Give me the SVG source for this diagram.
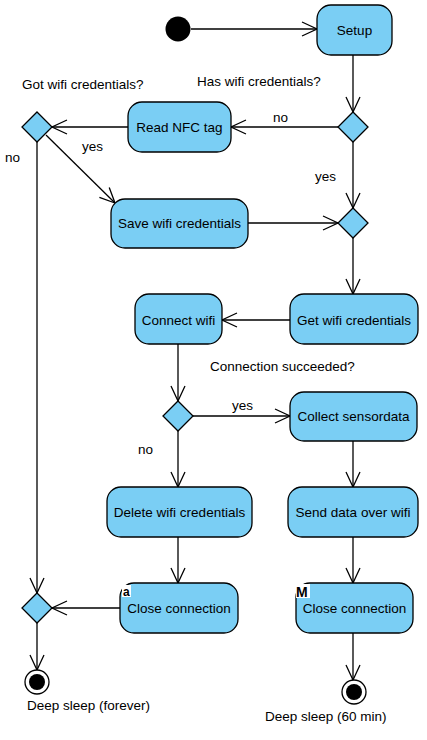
<svg xmlns="http://www.w3.org/2000/svg" width="427" height="740" viewBox="0 0 427 740">
<style>
.n{fill:#7ACEF4;stroke:#000;stroke-width:1.3}
.t{font-family:"Liberation Sans",Arial,sans-serif;font-size:13.5px;fill:#000}
.c{text-anchor:middle}
.e{fill:none;stroke:#000;stroke-width:1.3}
</style>
<defs>
<marker id="a" markerUnits="userSpaceOnUse" markerWidth="18" markerHeight="18" refX="15" refY="7" orient="auto" viewBox="-1 -1 18 16">
<path d="M0,0 L15,7 L0,14" fill="none" stroke="#000" stroke-width="1.3"/>
</marker>
</defs>
<rect width="427" height="740" fill="#fff"/>
<g id="connectors">
<line class="e" x1="191" y1="29" x2="317" y2="29" marker-end="url(#a)"/>
<line class="e" x1="353" y1="55" x2="353" y2="112" marker-end="url(#a)"/>
<line class="e" x1="338" y1="127" x2="231" y2="127" marker-end="url(#a)"/>
<line class="e" x1="128" y1="127" x2="52" y2="127" marker-end="url(#a)"/>
<line class="e" x1="46" y1="135" x2="115" y2="203" marker-end="url(#a)"/>
<line class="e" x1="353" y1="142" x2="353" y2="208" marker-end="url(#a)"/>
<line class="e" x1="248" y1="223" x2="338" y2="223" marker-end="url(#a)"/>
<line class="e" x1="353" y1="238" x2="353" y2="294" marker-end="url(#a)"/>
<line class="e" x1="290" y1="320" x2="222" y2="320" marker-end="url(#a)"/>
<line class="e" x1="178" y1="344" x2="178" y2="401" marker-end="url(#a)"/>
<line class="e" x1="193" y1="416" x2="290" y2="416" marker-end="url(#a)"/>
<line class="e" x1="178" y1="431" x2="178" y2="487" marker-end="url(#a)"/>
<line class="e" x1="353" y1="441" x2="353" y2="487" marker-end="url(#a)"/>
<line class="e" x1="178" y1="537" x2="178" y2="583" marker-end="url(#a)"/>
<line class="e" x1="353" y1="537" x2="353" y2="583" marker-end="url(#a)"/>
<line class="e" x1="37" y1="142" x2="37" y2="593" marker-end="url(#a)"/>
<line class="e" x1="120" y1="608" x2="52" y2="608" marker-end="url(#a)"/>
<line class="e" x1="37" y1="623" x2="37" y2="670" marker-end="url(#a)"/>
<line class="e" x1="353" y1="633" x2="353" y2="680" marker-end="url(#a)"/>
<text class="t" x="197" y="86">Has wifi credentials?</text>
<text class="t" x="273" y="122">no</text>
<text class="t" x="22" y="89">Got wifi credentials?</text>
<text class="t" x="82" y="151">yes</text>
<text class="t" x="5" y="162">no</text>
<text class="t" x="315" y="181">yes</text>
<text class="t" x="210" y="371">Connection succeeded?</text>
<text class="t" x="232" y="410">yes</text>
<text class="t" x="138" y="454">no</text>
</g>
<g id="start"><circle cx="178" cy="29" r="12.5" fill="#000"/></g>
<g id="setup"><rect class="n" x="317" y="5" width="75" height="50" rx="14"/><text class="t c" x="354.5" y="34.5">Setup</text></g>
<g id="dec1"><path class="n" d="M353,112 L368,127 L353,142 L338,127 Z"/></g>
<g id="readnfc"><rect class="n" x="128" y="102" width="103" height="50" rx="14"/><text class="t c" x="179.5" y="131.5">Read NFC tag</text></g>
<g id="dec2"><path class="n" d="M37,112 L52,127 L37,142 L22,127 Z"/></g>
<g id="save"><rect class="n" x="111" y="199" width="137" height="49" rx="14"/><text class="t c" x="179.5" y="228">Save wifi credentials</text></g>
<g id="merge1"><path class="n" d="M353,208 L368,223 L353,238 L338,223 Z"/></g>
<g id="getcred"><rect class="n" x="290" y="294" width="128" height="50" rx="14"/><text class="t c" x="354" y="324.5">Get wifi credentials</text></g>
<g id="connect"><rect class="n" x="135" y="294" width="87" height="50" rx="14"/><text class="t c" x="178.5" y="324.5">Connect wifi</text></g>
<g id="dec3"><path class="n" d="M178,401 L193,416 L178,431 L163,416 Z"/></g>
<g id="collect"><rect class="n" x="290" y="392" width="127" height="49" rx="14"/><text class="t c" x="353.5" y="421">Collect sensordata</text></g>
<g id="delete"><rect class="n" x="107" y="487" width="145" height="50" rx="14"/><text class="t c" x="179.5" y="517">Delete wifi credentials</text></g>
<g id="send"><rect class="n" x="288" y="487" width="130" height="50" rx="14"/><text class="t c" x="353" y="517">Send data over wifi</text></g>
<g id="close1"><rect class="n" x="120" y="583" width="118" height="50" rx="14"/><rect x="122" y="585" width="9" height="12" fill="#fff"/><text x="123" y="596" style="font-family:'Liberation Sans',Arial,sans-serif;font-size:12px;font-weight:bold">a</text><text class="t c" x="179" y="613">Close connection</text></g>
<g id="close2"><rect class="n" x="296" y="583" width="117" height="50" rx="14"/><rect x="296" y="584" width="14" height="14" fill="#fff"/><text x="296" y="597" style="font-family:'Liberation Sans',Arial,sans-serif;font-size:14px;font-weight:bold">M</text><text class="t c" x="354.5" y="613">Close connection</text></g>
<g id="merge2"><path class="n" d="M37,593 L52,608 L37,623 L22,608 Z"/></g>
<g id="end1"><circle cx="37" cy="682" r="12" fill="#fff" stroke="#000" stroke-width="1.3"/><circle cx="37" cy="682" r="8" fill="#000"/><text class="t" x="27" y="710">Deep sleep (forever)</text></g>
<g id="end2"><circle cx="354" cy="692" r="12" fill="#fff" stroke="#000" stroke-width="1.3"/><circle cx="354" cy="692" r="8" fill="#000"/><text class="t" x="265" y="721">Deep sleep (60 min)</text></g>
</svg>
